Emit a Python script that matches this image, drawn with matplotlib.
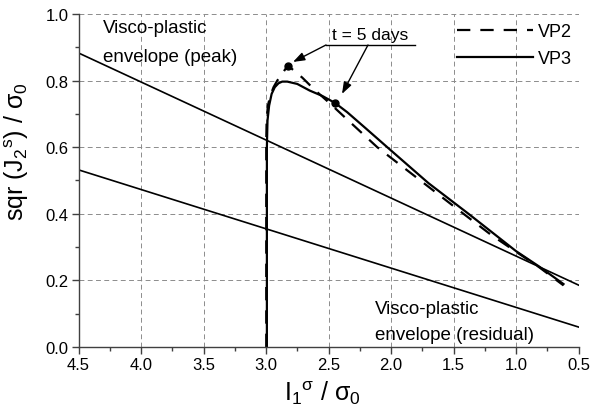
import matplotlib
matplotlib.use("Agg")
import matplotlib.pyplot as plt
from matplotlib.ticker import MultipleLocator

plt.rcParams['font.family'] = ['Liberation Sans', 'DejaVu Sans']
plt.rcParams['mathtext.fontset'] = 'custom'
plt.rcParams['mathtext.rm'] = 'Liberation Sans'
plt.rcParams['mathtext.it'] = 'Liberation Sans'
plt.rcParams['mathtext.sf'] = 'Liberation Sans'

# Stress paths (I1/sigma0, sqrt(J2)/sigma0)
vp2_x = [2.998, 2.998, 2.995, 2.985, 2.965, 2.94, 2.91, 2.88, 2.85, 2.824,
         2.71, 2.61, 2.49, 2.37, 2.11, 1.42, 1.20, 1.00, 0.82, 0.62]
vp2_y = [0.0, 0.62, 0.68, 0.725, 0.755, 0.78, 0.80, 0.815, 0.832, 0.845,
         0.809, 0.772, 0.732, 0.69, 0.60, 0.40, 0.337, 0.286, 0.241, 0.185]

vp3_x = [2.993, 2.993, 2.988, 2.975, 2.955, 2.93, 2.90, 2.87, 2.83, 2.75,
         2.65, 2.55, 2.448, 2.35, 2.20, 2.03, 1.70, 1.38, 1.00, 0.82, 0.62]
vp3_y = [0.0, 0.60, 0.68, 0.725, 0.760, 0.780, 0.792, 0.797, 0.797, 0.790,
         0.770, 0.754, 0.733, 0.705, 0.656, 0.600, 0.492, 0.400, 0.288, 0.243, 0.189]

# States reached after t = 5 days
t5_x = [2.824, 2.448]
t5_y = [0.845, 0.733]

# Visco-plastic envelopes
peak_x = [4.5, 0.5]
peak_y = [0.883, 0.186]
resid_x = [4.5, 0.5]
resid_y = [0.532, 0.060]

xticks = [4.5, 4.0, 3.5, 3.0, 2.5, 2.0, 1.5, 1.0, 0.5]
yticks = [0.0, 0.2, 0.4, 0.6, 0.8, 1.0]

fig = plt.figure(figsize=(5.92, 4.10), dpi=100)
ax = fig.add_axes([78.5 / 592, 1 - 348 / 410, 500 / 592, 333 / 410])

ax.plot(peak_x, peak_y, color='black', lw=1.2)
ax.plot(resid_x, resid_y, color='black', lw=1.2)
ax.plot(vp2_x, vp2_y, color='black', lw=1.6, dashes=(6, 4.5), label='VP2')
ax.plot(vp3_x, vp3_y, color='black', lw=1.6, label='VP3')
ax.plot(t5_x, t5_y, 'o', color='black', ms=5, zorder=5)

ax.set_xlim(4.5, 0.5)
ax.set_ylim(0.0, 1.0)
ax.set_xticks(xticks)
ax.set_yticks(yticks)
ax.xaxis.set_minor_locator(MultipleLocator(0.25))
ax.yaxis.set_minor_locator(MultipleLocator(0.1))
ax.set_xticklabels([f"{v:.1f}" for v in xticks])
ax.set_yticklabels([f"{v:.1f}" for v in yticks])

for s in ('top', 'right'):
    ax.spines[s].set_visible(False)
for s in ('left', 'bottom'):
    ax.spines[s].set_color('#404040')
    ax.spines[s].set_linewidth(1.0)

ax.tick_params(which='major', direction='out', length=5, width=1.0,
               color='#404040', labelsize=12, pad=2)
ax.tick_params(which='minor', direction='out', length=3, width=1.0,
               color='#404040')

ax.grid(True, which='major', color='#8c8c8c', lw=0.7, linestyle=(0, (5, 3.5)))
ax.set_axisbelow(True)

ax.set_xlabel(r'$\mathregular{I_1{}^{\sigma}\ /\ \sigma_0}$', fontsize=18)
ax.set_ylabel(r'$\mathregular{sqr\ (J_2{}^{s})\ /\ \sigma_0}$', fontsize=18)
ax.xaxis.set_label_coords(0.487, -0.095)
ax.yaxis.set_label_coords(-0.094, 0.589)

# Envelope labels
ax.text(4.304, 0.945, 'Visco-plastic', fontsize=13.5, va='baseline', ha='left')
ax.text(4.304, 0.859, 'envelope (peak)', fontsize=13.5, va='baseline', ha='left')
ax.text(2.128, 0.102, 'Visco-plastic', fontsize=13.5, va='baseline', ha='left')
ax.text(2.128, 0.024, 'envelope (residual)', fontsize=13.5, va='baseline', ha='left')

# t = 5 days callout
ax.text(2.166, 0.937, 't = 5 days', fontsize=12.5, ha='center', va='center')
ax.plot([2.52, 1.808], [0.907, 0.907], color='black', lw=1.0)
arrow = dict(arrowstyle='-|>,head_length=0.7,head_width=0.25', color='black',
             lw=1.0, shrinkA=0, shrinkB=0)
ax.annotate('', xy=(2.784, 0.856), xytext=(2.52, 0.907), arrowprops=arrow)
ax.annotate('', xy=(2.392, 0.760), xytext=(2.184, 0.907), arrowprops=arrow)

leg = ax.legend(loc='upper left', bbox_to_anchor=(457 / 592, 1 - 24 / 410),
                bbox_transform=fig.transFigure, frameon=False, fontsize=13,
                handlelength=4.2, handletextpad=0.3, borderpad=0,
                borderaxespad=0, labelspacing=0.55)

fig.savefig('out.png', dpi=100)
